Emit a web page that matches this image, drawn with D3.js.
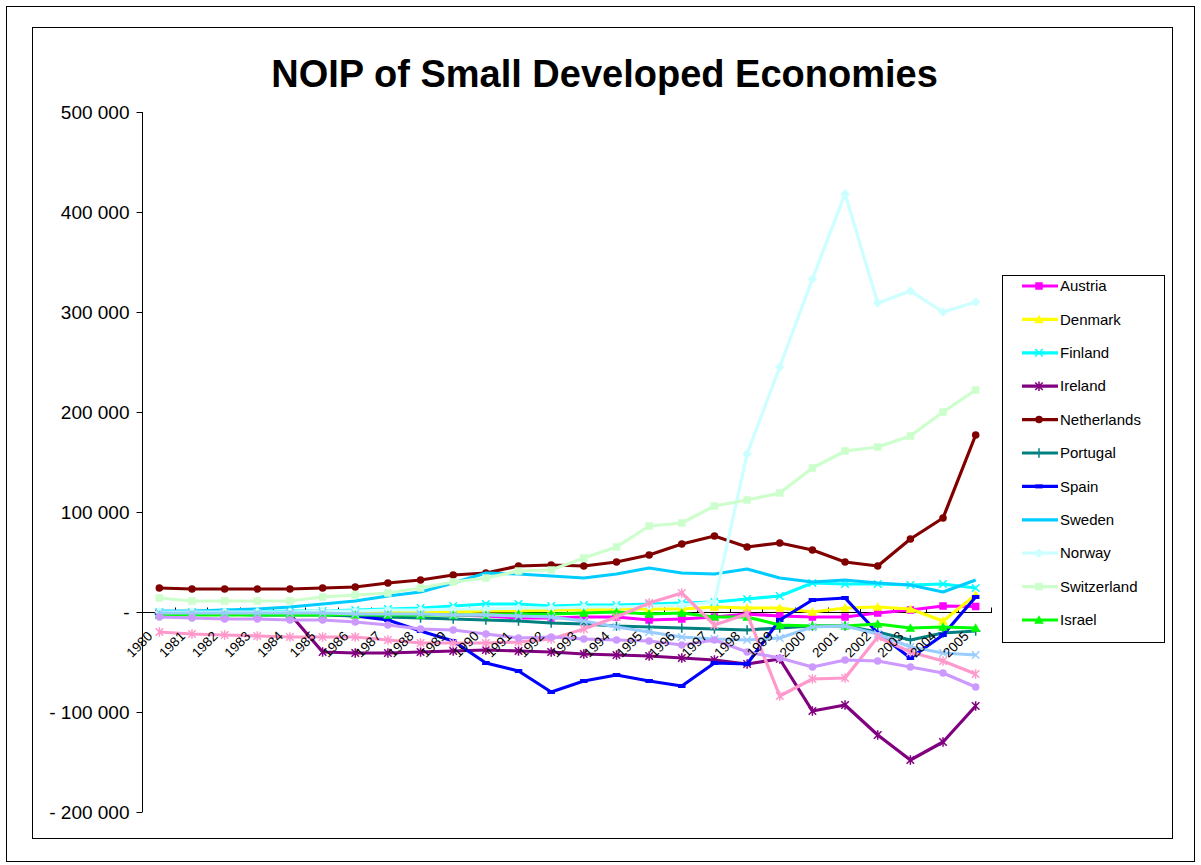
<!DOCTYPE html>
<html>
<head>
<meta charset="utf-8">
<script src="https://cdn.jsdelivr.net/npm/d3@7"></script>
<style>
  html, body { margin: 0; padding: 0; background: #fff; }
  svg { display: block; font-family: "Liberation Sans", Arial, sans-serif; }
</style>
</head>
<body>
<svg id="chart" width="1201" height="865"></svg>
<script>
// Net outward investment position, 1980-2005
const years = d3.range(1980, 2006).map(String);
const yTicks = [500000, 400000, 300000, 200000, 100000, 0, -100000, -200000];

const austria     = [-1000,-1000,-1000,-1000,-1000,-1000,-2000,-2000,-2000,-3000,-4000,-6000,-6000,-5000,-5000,-8000,-7000,-5000,-2000,-4000,-5000,-5000,-1000,2000,6000,5500];
const denmark     = [-1000,-1000,-1000,-1000,-1000,-1000,-1000,0,0,0,1000,1000,2000,2000,3000,3000,3000,5000,4000,4000,0,4000,5000,3000,-9000,17000];
const finland     = [0,0,0,0,1000,1000,2000,3000,4000,6000,8000,8000,6000,7000,7000,8000,9000,10000,13000,16000,29000,28000,28000,27000,28000,24000];
const ireland     = [-2000,-2000,-2000,-2000,-2000,-40000,-41000,-41000,-40000,-39000,-38000,-39000,-40000,-42000,-43000,-44000,-46000,-48000,-52000,-47000,-99000,-93000,-123000,-148000,-130000,-94000];
const netherlands = [24000,23000,23000,23000,23000,24000,25000,29000,32000,37000,39000,46000,47000,46000,50000,57000,68000,76000,65000,69000,62000,50000,46000,73000,94000,177000];
const portugal    = [-2000,-2000,-2000,-3000,-3000,-3000,-4000,-5000,-6000,-7000,-8000,-9000,-11000,-12000,-14000,-15000,-16000,-17000,-18000,-16000,-14000,-14000,-20000,-28000,-21000,-19000];
const spain       = [-1000,-1000,-1000,-1000,-1000,-2000,-4000,-8000,-19000,-29000,-51000,-59000,-80000,-69000,-63000,-69000,-74000,-51000,-52000,-8000,12000,14000,-21000,-46000,-23000,15000];
const sweden      = [1000,1000,2000,3000,5000,8000,11000,16000,20000,29000,39000,38000,36000,34000,38000,44000,39000,38000,43000,34000,30000,32000,29000,27000,20000,32000];
const norway      = [0,0,0,0,0,1000,1000,2000,2000,3000,3000,4000,4000,5000,5000,6000,7000,10000,158000,245000,333000,418000,309000,321000,300000,310000];
const switzerland = [14000,11000,11000,11000,11000,15000,17000,19000,24000,30000,34000,41000,42000,54000,65000,86000,89000,106000,112000,119000,144000,161000,165000,176000,200000,222000];
const israel      = [-3000,-3000,-3000,-3000,-3000,-3000,-3000,-3000,-3000,-3000,-3000,-2000,-2000,-1000,0,-2000,-1000,-5000,-5000,-13000,-14000,-14000,-12000,-16000,-15000,-16000];
const series13    = [-1000,-1000,-1000,-1000,-1000,-1000,-2000,-2000,-2000,-3000,-3000,-4000,-5000,-9000,-15000,-20000,-25000,-27000,-28000,-26000,-15000,-14000,-22000,-35000,-41000,-43000];
const series14    = [-20000,-22000,-23000,-24000,-25000,-25000,-25000,-28000,-31000,-31000,-31000,-30000,-27000,-17000,-5000,9000,19000,-13000,-2000,-84000,-67000,-66000,-25000,-40000,-49000,-62000];
const series15    = [-5000,-6000,-7000,-7000,-8000,-8000,-10000,-13000,-17000,-18000,-22000,-26000,-25000,-27000,-28000,-29000,-33000,-28000,-40000,-46000,-55000,-48000,-49000,-55000,-61000,-75000];

const seriesNames   = ["Austria","Denmark","Finland","Ireland","Netherlands","Portugal","Spain","Sweden","Norway","Switzerland","Israel","Series 13","Series 14","Series 15"];
const seriesValues  = [austria,denmark,finland,ireland,netherlands,portugal,spain,sweden,norway,switzerland,israel,series13,series14,series15];
const seriesColors  = ["#FF00FF","#FFFF00","#00FFFF","#800080","#800000","#008080","#0000FF","#00CCFF","#CCFFFF","#CCFFCC","#00FF00","#99CCFF","#FF99CC","#CC99FF"];
const seriesMarkers = ["square","triangle","x","star","circle","plus","dash","none","diamond","square","triangle","x","star","circle"];
const inLegend      = [true,true,true,true,true,true,true,true,true,true,true,false,false,false];

const series = seriesNames.map((name, i) => ({
  name, color: seriesColors[i], marker: seriesMarkers[i], legend: inLegend[i],
  points: years.map((yr, j) => ({ year: yr, value: seriesValues[i][j] }))
}));

const svg = d3.select("#chart");

// chart frames
svg.append("rect").attr("x", 6.5).attr("y", 6.5).attr("width", 1188).attr("height", 855)
  .attr("fill", "#fff").attr("stroke", "#000").attr("stroke-width", 1);
svg.append("rect").attr("x", 32.5).attr("y", 27.5).attr("width", 1140).attr("height", 811)
  .attr("fill", "#fff").attr("stroke", "#000").attr("stroke-width", 1);

// title
svg.append("text").attr("x", 604.5).attr("y", 87).attr("text-anchor", "middle")
  .attr("font-size", 38).attr("font-weight", "bold").attr("fill", "#000")
  .text("NOIP of Small Developed Economies");

const x = d3.scalePoint().domain(years).range([143, 992]).padding(0.5);
const y = d3.scaleLinear().domain([-200000, 500000]).range([812, 112]);

const nf = d3.formatLocale({ decimal: ",", thousands: " ", grouping: [3], currency: ["", ""] }).format(",d");
const fmt = v => v === 0 ? "-" : (v < 0 ? "- " + nf(-v) : nf(v));

// value axis
const yAxis = svg.append("g").attr("transform", "translate(142.5,0)")
  .call(d3.axisLeft(y).tickValues(yTicks).tickFormat(fmt).tickSize(6).tickPadding(7));
yAxis.select(".domain").attr("stroke", "#000").attr("d", `M0,${y(500000)}V${y(-200000)}`);
yAxis.selectAll(".tick line").attr("stroke", "#000");
yAxis.selectAll(".tick text").attr("font-size", 19).attr("fill", "#000")
  .attr("font-family", "'Liberation Sans', Arial, sans-serif");

// category axis along zero
const y0 = Math.round(y(0)) + 0.5;
const step = x.step();
const xAxis = svg.append("g");
xAxis.append("line").attr("x1", 142).attr("x2", 992).attr("y1", y0).attr("y2", y0).attr("stroke", "#000");
xAxis.selectAll("line.tk").data(d3.range(years.length + 1)).join("line").attr("class", "tk")
  .attr("x1", i => Math.round(143 + i * step) - 0.5).attr("x2", i => Math.round(143 + i * step) - 0.5)
  .attr("y1", y0 - 5).attr("y2", y0).attr("stroke", "#000");

// lines and markers
const line = d3.line().x(d => x(d.year)).y(d => y(d.value));

function drawMarker(g, type, color, size) {
  const s = size / 2;
  switch (type) {
    case "square":
      g.append("rect").attr("x", -s).attr("y", -s).attr("width", size).attr("height", size).attr("fill", color); break;
    case "triangle":
      g.append("path").attr("d", `M0,${-s - 1}L${s + 1},${s}L${-s - 1},${s}Z`).attr("fill", color); break;
    case "diamond":
      g.append("path").attr("d", `M0,${-s - 1}L${s + 1},0L0,${s + 1}L${-s - 1},0Z`).attr("fill", color); break;
    case "circle":
      g.append("circle").attr("r", s).attr("fill", color); break;
    case "x":
      g.append("path").attr("d", `M${-s},${-s}L${s},${s}M${-s},${s}L${s},${-s}`).attr("stroke", color).attr("stroke-width", 1.5); break;
    case "star":
      g.append("path").attr("d", `M${-s},${-s}L${s},${s}M${-s},${s}L${s},${-s}M0,${-s - 1}V${s + 1}`).attr("stroke", color).attr("stroke-width", 1.5); break;
    case "plus":
      g.append("path").attr("d", `M0,${-s - 1}V${s + 1}M${-s - 1},0H${s + 1}`).attr("stroke", color).attr("stroke-width", 1.5); break;
    case "dash":
      g.append("rect").attr("x", -s).attr("y", -2).attr("width", size).attr("height", 4).attr("fill", color); break;
  }
}

const plot = svg.append("g");
series.forEach(s => {
  const g = plot.append("g");
  g.append("path").datum(s.points).attr("d", line).attr("fill", "none")
    .attr("stroke", s.color).attr("stroke-width", 3.2).attr("stroke-linejoin", "round");
  s.points.forEach(p => {
    const m = g.append("g").attr("transform", `translate(${x(p.year)},${y(p.value)})`);
    drawMarker(m, s.marker, s.color, 7.5);
  });
});

// category labels, rotated
svg.append("g").selectAll("text").data(years).join("text")
  .attr("transform", d => `translate(${x(d) - 6},${637}) rotate(-45)`)
  .attr("text-anchor", "end").attr("font-size", 13.5).attr("fill", "#000")
  .text(d => d);

// legend
const legend = svg.append("g");
legend.append("rect").attr("x", 1002.5).attr("y", 275.5).attr("width", 162).attr("height", 367)
  .attr("fill", "#fff").attr("stroke", "#000");
const legendItems = series.filter(s => s.legend);
legendItems.forEach((s, i) => {
  const cy = 286 + i * 33.4;
  legend.append("line").attr("x1", 1022).attr("x2", 1058).attr("y1", cy).attr("y2", cy)
    .attr("stroke", s.color).attr("stroke-width", 3.2);
  const m = legend.append("g").attr("transform", `translate(1039,${cy})`);
  drawMarker(m, s.marker, s.color, 7.5);
  legend.append("text").attr("x", 1060).attr("y", cy).attr("dy", "0.35em")
    .attr("font-size", 15).attr("fill", "#000").text(s.name);
});
</script>
</body>
</html>
